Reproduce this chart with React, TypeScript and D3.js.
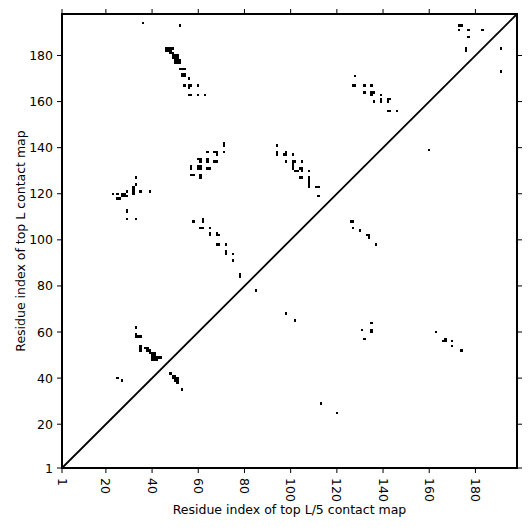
import React from "react";
import * as d3 from "d3";

const xTicks = [1, 20, 40, 60, 80, 100, 120, 140, 160, 180];
const yTicks = [1, 20, 40, 60, 80, 100, 120, 140, 160, 180];
const residueDomain = [1, 198];

// contacts above the diagonal
const upperContacts: [number, number][] = [
  [36,194],[52,193],
  [46,183],[47,183],[48,183],[49,183],[46,182],[47,182],[48,182],
  [48,181],[49,181],[49,180],[50,180],[51,180],[49,179],[50,179],[51,179],
  [50,178],[51,178],[52,178],[50,177],[51,177],[52,177],
  [52,174],[53,174],[54,174],
  [53,171],[54,171],[53,172],[54,172],[56,170],
  [54,167],[56,167],[57,167],[56,166],[60,167],
  [56,163],[57,163],[60,163],[63,163],
  [71,141],[71,142],[71,138],[64,138],[67,138],[68,138],[68,137],
  [60,135],[61,135],[61,134],[64,134],[64,135],[67,134],[68,134],
  [57,131],[57,132],[60,132],[61,132],[60,131],[61,131],[64,131],[65,131],
  [57,128],[58,128],[61,127],[61,128],
  [33,127],[23,120],[25,120],[27,120],[25,118],[26,118],[27,119],[28,119],[29,119],[28,120],[29,121],
  [32,120],[32,121],[32,122],[32,123],[33,124],[35,121],[39,121],
  [29,112],[29,113],[29,109],[33,109],
  [58,108],[62,108],[62,109],[61,105],[62,105],[65,105],[65,102],[65,103],[68,102],[69,102],[68,103],
  [68,98],[69,98],[72,98],[72,94],[72,95],[75,94],[75,91],[78,84],[78,85],
  [33,62],[33,59],[33,58],[34,58],[35,58],[35,52],[35,53],[35,54],
  [37,53],[38,53],[38,52],[39,52],[39,51],[40,51],[41,51],[40,50],[41,50],[40,49],[41,49],[42,49],
  [40,48],[41,48],[42,48],[43,49],[44,49],
  [25,40],[27,39],
  [94,141],[94,137],[94,138],[97,137],[98,137],[98,138],[101,137],[98,134],
  [101,134],[102,134],[101,133],[101,132],[105,134],[101,131],[102,130],[103,130],[104,131],[105,131],[105,130],[108,130],
  [104,127],[105,127],[108,127],[108,126],[108,125],[108,123],[108,124],[111,123],[112,123],[112,119],
  [128,171],[127,167],[128,167],[132,167],[135,167],[132,164],[135,164],[136,164],[135,163],[136,160],
  [139,163],[139,160],[139,161],[142,160],[142,161],[143,161],[142,156],[143,156],[146,156],
  [173,193],[174,193],[173,191],[177,191],[183,191],[177,188],[176,182],[176,183],
];

// contacts below the diagonal
const lowerContacts: [number, number][] = [
  [85,78],[98,68],[102,65],[113,29],[120,25],
  [48,42],[49,41],[50,41],[49,40],[50,40],[51,40],[50,39],[51,39],[51,38],[53,35],
  [126,108],[127,108],[127,105],[130,104],[133,102],[134,102],[134,101],[137,98],
  [131,61],[135,64],[135,60],[135,61],[132,57],
  [163,60],[166,56],[167,56],[167,57],[170,56],[170,54],[174,52],
  [160,139],[191,183],[191,173],
];

const xLabel = "Residue index of top L/5 contact map";
const yLabel = "Residue index of top L contact map";

export default function App() {
  const W = 531, H = 531;
  const left = 62, right = 517, top = 14, bottom = 468;
  const x = d3.scaleLinear().domain(residueDomain).range([left, right]);
  const y = d3.scaleLinear().domain(residueDomain).range([bottom, top]);
  const font = "DejaVu Sans, sans-serif";
  const fs = 12.5;
  const all = [...upperContacts, ...lowerContacts];
  const diag = d3.line<number>().x((d) => x(d)).y((d) => y(d))(residueDomain as number[]) || "";
  const tl = 5;
  return (
    <svg width={W} height={H} style={{ position: "fixed", left: 0, top: 0, background: "#fff" }}>
      <rect x={0} y={0} width={W} height={H} fill="#fff" />
      {all.map(([cx, cy], i) => (
        <rect
          key={i}
          x={x(cx - 0.5)}
          y={y(cy + 0.5)}
          width={x(cx + 0.5) - x(cx - 0.5)}
          height={y(cy - 0.5) - y(cy + 0.5)}
          fill="#000"
          shapeRendering="crispEdges"
        />
      ))}
      <path d={diag} stroke="#000" strokeWidth={1.8} fill="none" />
      <rect x={left} y={top} width={right - left} height={bottom - top} fill="none" stroke="#000" strokeWidth={2} />
      {xTicks.map((t) => (
        <g key={"x" + t}>
          <line x1={x(t)} x2={x(t)} y1={bottom} y2={bottom + tl} stroke="#000" strokeWidth={1} />
          <line x1={x(t)} x2={x(t)} y1={top} y2={top - tl} stroke="#000" strokeWidth={1} />
          <text
            transform={`translate(${x(t)},${bottom + 10}) rotate(90)`}
            fontFamily={font}
            fontSize={fs}
            dominantBaseline="central"
            textAnchor="start"
            fill="#000"
          >
            {t}
          </text>
        </g>
      ))}
      {yTicks.map((t) => (
        <g key={"y" + t}>
          <line x1={left} x2={left - tl} y1={y(t)} y2={y(t)} stroke="#000" strokeWidth={1} />
          <line x1={right} x2={right + tl} y1={y(t)} y2={y(t)} stroke="#000" strokeWidth={1} />
          <text x={left - 9} y={y(t)} fontFamily={font} fontSize={fs} dominantBaseline="central" textAnchor="end" fill="#000">
            {t}
          </text>
        </g>
      ))}
      <text x={(left + right) / 2} y={514} fontFamily={font} fontSize={fs} textAnchor="middle" fill="#000">
        {xLabel}
      </text>
      <text
        transform={`translate(25,${(top + bottom) / 2}) rotate(-90)`}
        fontFamily={font}
        fontSize={fs}
        textAnchor="middle"
        fill="#000"
      >
        {yLabel}
      </text>
    </svg>
  );
}
